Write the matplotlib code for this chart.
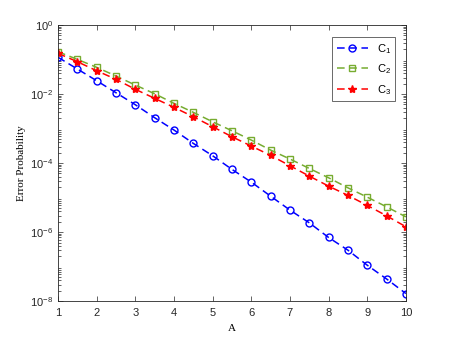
import numpy as np
import matplotlib
matplotlib.use('Agg')
import matplotlib.pyplot as plt
from matplotlib.ticker import LogLocator, NullFormatter

a_vals = [1, 1.5, 2, 2.5, 3, 3.5, 4, 4.5, 5, 5.5, 6, 6.5, 7, 7.5, 8, 8.5, 9, 9.5, 10]

c1 = [0.116, 0.0531, 0.0243, 0.0109, 4.9e-3, 2.06e-3, 9.06e-4, 3.72e-4, 1.63e-4,
      6.56e-5, 2.81e-5, 1.10e-5, 4.35e-6, 1.86e-6, 7.0e-7, 3.0e-7, 1.10e-7, 4.4e-8, 1.66e-8]
c2 = [0.168, 0.101, 0.0594, 0.0332, 0.0182, 0.0102, 5.37e-3, 2.95e-3, 1.57e-3,
      8.63e-4, 4.64e-4, 2.38e-4, 1.31e-4, 7.0e-5, 3.75e-5, 1.92e-5, 1.03e-5, 5.4e-6, 2.77e-6]
c3 = [0.151, 0.0863, 0.0473, 0.0267, 0.0137, 7.5e-3, 4.11e-3, 2.20e-3, 1.13e-3,
      5.79e-4, 3.11e-4, 1.67e-4, 8.36e-5, 4.2e-5, 2.15e-5, 1.16e-5, 5.94e-6, 2.97e-6, 1.43e-6]

labels = [r'$\mathregular{C_1}$', r'$\mathregular{C_2}$', r'$\mathregular{C_3}$']
colors = ['#0000ff', '#77ac30', '#ff0000']
markers = ['o', 's', '*']

plt.rcParams['font.family'] = ['Liberation Sans', 'DejaVu Sans']
plt.rcParams['mathtext.fontset'] = 'custom'
plt.rcParams['mathtext.rm'] = 'Liberation Sans'

fig = plt.figure(figsize=(4.5, 3.38), dpi=100)
ax = fig.add_axes([0.129, 0.109, 0.773, 0.817])

for ys, lab, col, mk in zip([c1, c2, c3], labels, colors, markers):
    if mk == '*':
        ax.semilogy(a_vals, ys, linestyle=(0, (5, 3)), color=col, marker=mk,
                    markersize=6, linewidth=1.1, label=lab)
    else:
        ax.semilogy(a_vals, ys, linestyle=(0, (5, 3)), color=col, marker=mk,
                    markersize=5, markerfacecolor='none', markeredgewidth=1.0,
                    linewidth=1.1, label=lab)

ax.set_xlim(1, 10)
ax.set_ylim(1e-8, 1)
ax.set_xticks(range(1, 11))
ax.set_yticks([1e-8, 1e-6, 1e-4, 1e-2, 1e0])
ax.yaxis.set_minor_locator(LogLocator(base=10, subs=np.arange(2, 10), numticks=20))
ax.yaxis.set_minor_formatter(NullFormatter())

for s in ax.spines.values():
    s.set_color('#262626')
    s.set_linewidth(0.6)
ax.tick_params(which='both', direction='in', top=True, right=True,
               labelsize=8, colors='#262626', width=0.5)
ax.tick_params(which='major', length=3.5)
ax.tick_params(which='minor', length=2)
ax.tick_params(axis='x', pad=5)

ax.set_xlabel('A', family='Liberation Serif', fontsize=8, labelpad=4)
ax.set_ylabel('Error Probability', family='Liberation Serif', fontsize=8, labelpad=3)

leg = ax.legend(loc='upper right', fontsize=8, frameon=True, fancybox=False,
                edgecolor='#262626', handlelength=2.8, borderpad=0.4,
                labelspacing=0.6, bbox_to_anchor=(0.985, 0.975))
leg.get_frame().set_linewidth(0.6)

fig.savefig('out.png', dpi=100)
